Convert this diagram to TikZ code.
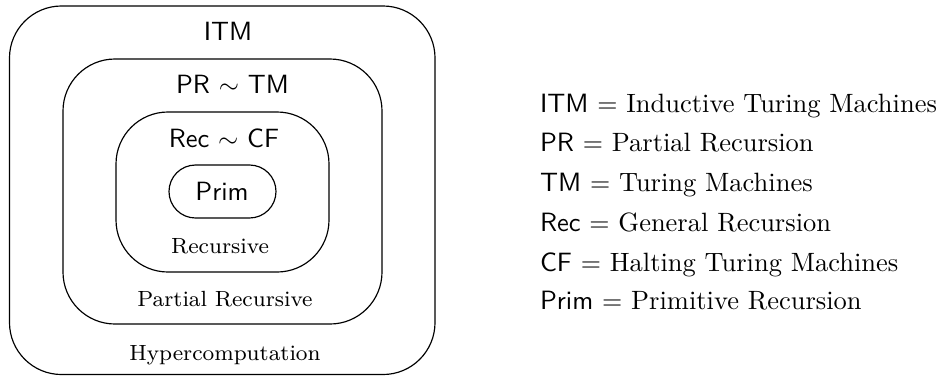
\documentclass[tikz,border=0pt]{standalone}
\begin{document}
\begin{tikzpicture}[x=0.3846pt,y=-0.3846pt,
  box/.style={draw,line width=0.45pt,rounded corners=20pt,inner sep=0pt},
  big/.style={inner sep=0pt,anchor=base,font=\fontsize{10.15}{15}\selectfont},
  small/.style={inner sep=0pt,anchor=base,font=\fontsize{8.45}{10.5}\selectfont},
  legend/.style={inner sep=0pt,anchor=base west,font=\fontsize{10.18}{15}\selectfont}]
\useasboundingbox (0,0) rectangle (941,376);
% nested boxes
\node[box,minimum width=163.65pt,minimum height=141.73pt] (outer) at (222.25,190.25) {};
\node[box,minimum width=122.69pt,minimum height=101.92pt] (pr) at (222.5,191.5) {};
\node[box,minimum width=81.92pt,minimum height=61.54pt] (rec) at (222.5,192) {};
\node[box,rounded corners=10.19pt,minimum width=41.15pt,minimum height=20.38pt] (prim) at (222.5,191.5) {};
% labels inside
\node[big] (litm) at (228,40) {\textsf{ITM}};
\node[big] (lpr) at (232.5,93) {\textsf{PR} $\sim$ \textsf{TM}};
\node[big] (lrec) at (224,147) {\textsf{Rec} $\sim$ \textsf{CF}};
\node[big] (lprim) at (222,200) {\textsf{Prim}};
\node[small] (lrecursive) at (220,253) {Recursive};
\node[small] (lpartial) at (225,306) {Partial Recursive};
\node[small] (lhyper) at (225,360) {Hypercomputation};
% legend
\node[legend] (g1) at (539.5,112.7) {\textsf{ITM} $=$ Inductive Turing Machines};
\node[legend] (g2) at (539.5,151.7) {\textsf{PR} $=$ Partial Recursion};
\node[legend] (g3) at (539.5,191) {\textsf{TM} $=$ Turing Machines};
\node[legend] (g4) at (539.5,231) {\textsf{Rec} $=$ General Recursion};
\node[legend] (g5) at (539.5,271) {\textsf{CF} $=$ Halting Turing Machines};
\node[legend] (g6) at (539.5,309) {\textsf{Prim} $=$ Primitive Recursion};
\end{tikzpicture}
\end{document}
